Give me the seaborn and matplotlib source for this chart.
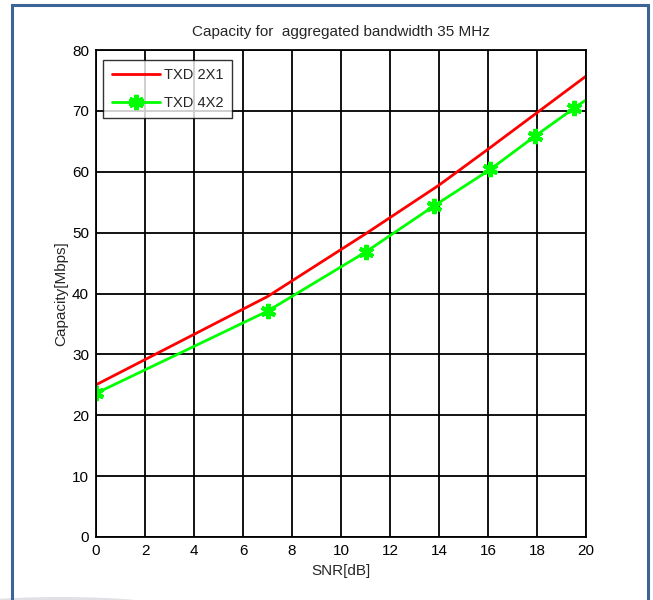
import numpy as np
import pandas as pd
import matplotlib
matplotlib.use("Agg")
import matplotlib.pyplot as plt
from matplotlib.patches import Rectangle, Ellipse
import seaborn as sns

# SNR sample points and capacities (Mbps)
snr_2x1 = [0, 7, 11, 14, 16, 18, 20]
cap_2x1 = [25.0, 39.5, 49.8, 57.8, 63.7, 69.7, 75.7]

snr_4x2 = [0, 7, 11, 13.8, 16.1, 17.9, 19.5, 20]
cap_4x2 = [23.6, 37.1, 46.8, 54.4, 60.4, 65.8, 70.4, 71.8]

labels = ["TXD 2X1", "TXD 4X2"]
x_ticks = list(range(0, 21, 2))
y_ticks = list(range(0, 81, 10))

df = pd.concat([
    pd.DataFrame({"SNR": snr_2x1, "Capacity": cap_2x1, "Scheme": labels[0]}),
    pd.DataFrame({"SNR": snr_4x2, "Capacity": cap_4x2, "Scheme": labels[1]}),
])

sns.set_style("white")
plt.rcParams["font.family"] = ["Liberation Sans", "DejaVu Sans"]

fig = plt.figure(figsize=(6.53, 6.00), dpi=100)
ax = fig.add_axes([96 / 653, 1 - 537 / 600, 490 / 653, 487 / 600])

d1 = df[df["Scheme"] == labels[0]]
d2 = df[df["Scheme"] == labels[1]]
sns.lineplot(data=d1, x="SNR", y="Capacity", color="#ff0000", linewidth=2,
             ax=ax, estimator=None, sort=False)
sns.lineplot(data=d2, x="SNR", y="Capacity", color="#00ff00", linewidth=2,
             ax=ax, estimator=None, sort=False)

# asterisk markers on the 4X2 curve (last sample has no marker)
red_line, green_line = ax.lines[0], ax.lines[1]
red_line.set_label(labels[0])
green_line.set_label(labels[1])
green_line.set_marker((6, 2, 0))
green_line.set_markersize(11)
green_line.set_markeredgewidth(3.0)
green_line.set_markeredgecolor("#00ff00")
green_line.set_markerfacecolor("#00ff00")
green_line.set_markevery(list(range(len(snr_4x2) - 1)))

ax.set_xlim(0, 20)
ax.set_ylim(0, 80)
ax.set_xticks(x_ticks)
ax.set_yticks(y_ticks)
ax.grid(True, color="black", linewidth=1.3, linestyle="-")
ax.set_axisbelow(True)
for s in ax.spines.values():
    s.set_color("black")
    s.set_linewidth(1.3)
ax.tick_params(axis="both", length=0, labelsize=11, colors="black", pad=5)

ax.set_title("Capacity for  aggregated bandwidth 35 MHz", fontsize=11, pad=10)
ax.set_xlabel("SNR[dB]", fontsize=11, labelpad=4)
ax.set_ylabel("Capacity[Mbps]", fontsize=11, labelpad=3)

leg = ax.legend(handles=[red_line, green_line], loc="upper left",
                bbox_to_anchor=(0.014, 0.98), frameon=True,
                fancybox=False, edgecolor="black", fontsize=10.5,
                handlelength=3.3, handletextpad=0.3, borderpad=0.6,
                labelspacing=0.9, borderaxespad=0)
leg.get_frame().set_linewidth(1.0)

# page frame around the figure
fig.patches.append(Rectangle((12 / 653, -0.02), (648 - 12) / 653, (600 - 5) / 600 + 0.02,
                             transform=fig.transFigure, fill=False,
                             edgecolor="#3d6499", linewidth=2.2, zorder=5))
# soft shadow at lower left
fig.patches.append(Ellipse((60 / 653, -8 / 600), 220 / 653, 22 / 600,
                           transform=fig.transFigure, facecolor="#d8dade",
                           edgecolor="none", alpha=0.8, zorder=1))

fig.savefig("out.png", dpi=100)
